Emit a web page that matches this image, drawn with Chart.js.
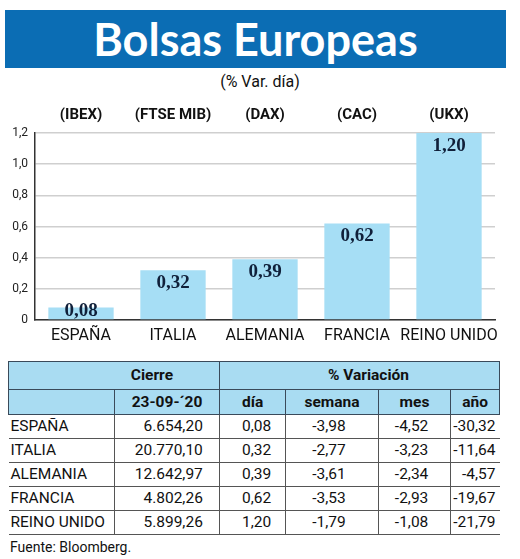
<!DOCTYPE html>
<html>
<head>
<meta charset="utf-8">
<script src="https://cdn.jsdelivr.net/npm/chart.js@4.4.0/dist/chart.umd.min.js"></script>
<style>
  body { margin: 0; background: #fff; width: 520px; height: 559px; position: relative; overflow: hidden;
         font-family: "Liberation Sans Narrow", Roboto, sans-serif; color: #111; }
  #band { position: absolute; left: 5px; top: 10px; width: 501px; height: 58px; background: #0b6db4;
          color: #fff; font-family: Lato, sans-serif; font-weight: 700; font-size: 45px;
          text-align: center; line-height: 58px; }
  #sub { position: absolute; left: 0; top: 72px; width: 520px; text-align: center; font-size: 16px; }
  #chart { position: absolute; left: 0; top: 95px; }
  #tbl { position: absolute; left: 8px; top: 361px; width: 492px; border-collapse: collapse; font-size: 15.5px; }
  #tbl td { padding: 0 2px; height: 23px; line-height: 23px; border-bottom: 1px solid #555; }
  #tbl tr.h td { background: #a9dcf2; font-weight: bold; text-align: center; border: 1px solid #3a4a5a; }
  #tbl tr.h1 td { height: 27px; line-height: 27px; }
  #tbl tr.h2 td { height: 24px; line-height: 24px; }
  #tbl td.n { text-align: right; padding-right: 4px; border-left: 1px solid #555; }
  #src { position: absolute; left: 10px; top: 539px; font-size: 14px; }
</style>
</head>
<body>
<div id="band">Bolsas Europeas</div>
<div id="sub">(% Var. día)</div>
<canvas id="chart" width="520" height="255"></canvas>
<table id="tbl"></table>
<div id="src">Fuente: Bloomberg.</div>
<script>
const countries = ['ESPAÑA', 'ITALIA', 'ALEMANIA', 'FRANCIA', 'REINO UNIDO'];
const tickers = ['(IBEX)', '(FTSE MIB)', '(DAX)', '(CAC)', '(UKX)'];
const dayChange = [0.08, 0.32, 0.39, 0.62, 1.20];
const closeValues = ['6.654,20', '20.770,10', '12.642,97', '4.802,26', '5.899,26'];
const weekChange = [-3.98, -2.77, -3.61, -3.53, -1.79];
const monthChange = [-4.52, -3.23, -2.34, -2.93, -1.08];
const yearChange = [-30.32, -11.64, -4.57, -19.67, -21.79];

const fmt = v => v.toFixed(2).replace('.', ',');

// table
const tbl = document.getElementById('tbl');
let html = '<tr class="h h1"><td colspan="2" style="padding-left:78px">Cierre</td>' +
  '<td colspan="4" style="padding-left:20px">% Variación</td></tr>' +
  '<tr class="h h2"><td style="width:102px;border-right:none"></td><td style="width:100px">23-09-´20</td>' +
  '<td style="width:62px">día</td><td style="width:88px">semana</td><td style="width:68px">mes</td><td>año</td></tr>';
countries.forEach((c, i) => {
  html += '<tr><td style="padding-left:2px">' + c + '</td><td class="n" style="padding-right:16px">' + closeValues[i] + '</td>' +
    '<td class="n" style="padding-right:14px">' + fmt(dayChange[i]) + '</td>' +
    '<td class="n" style="padding-right:32px">' + fmt(weekChange[i]) + '</td>' +
    '<td class="n" style="padding-right:22px">' + fmt(monthChange[i]) + '</td>' +
    '<td class="n">' + fmt(yearChange[i]) + '</td></tr>';
});
tbl.innerHTML = html;

const valueLabels = {
  id: 'valueLabels',
  afterDatasetsDraw(chart) {
    const c = chart.ctx;
    const meta = chart.getDatasetMeta(0);
    c.save();
    c.font = 'bold 19px "Liberation Serif", serif';
    c.fillStyle = '#10203a';
    c.textAlign = 'center';
    c.textBaseline = 'middle';
    meta.data.forEach((bar, i) => {
      const y = Math.min(bar.y + 13, bar.base - 8);
      c.fillText(fmt(dayChange[i]), bar.x, y);
    });
    c.restore();
  }
};

const axisFont = '"Liberation Sans Narrow", Roboto, sans-serif';

new Chart(document.getElementById('chart'), {
  type: 'bar',
  data: {
    labels: countries,
    datasets: [{
      data: dayChange,
      backgroundColor: '#a6def5',
      barPercentage: 0.71,
      categoryPercentage: 1
    }]
  },
  options: {
    responsive: false,
    animation: false,
    layout: { padding: { left: 0, right: 25, top: 0, bottom: 0 } },
    plugins: { legend: { display: false }, tooltip: { enabled: false } },
    scales: {
      x: {
        grid: { display: false, drawTicks: false },
        border: { color: '#333', width: 1.5 },
        ticks: { color: '#111', padding: 6, maxRotation: 0, minRotation: 0, autoSkip: false,
                 font: { family: axisFont, size: 16 } },
        afterFit(s) { s.height = 30; }
      },
      x2: {
        type: 'category',
        labels: tickers,
        position: 'top',
        grid: { display: false, drawTicks: false },
        border: { display: false },
        ticks: { color: '#111', padding: 9, maxRotation: 0, minRotation: 0, autoSkip: false,
                 font: { family: axisFont, size: 15, weight: 'bold' } },
        afterFit(s) { s.height = 38; }
      },
      y: {
        min: 0,
        max: 1.2,
        ticks: {
          stepSize: 0.2,
          color: '#222',
          padding: 7,
          font: { family: axisFont, size: 12 },
          callback: v => v === 0 ? '0' : v.toFixed(1).replace('.', ',')
        },
        grid: { color: '#cfcfcf', lineWidth: 1.5, drawTicks: false },
        border: { color: '#333', width: 1.5 },
        afterFit(s) { s.width = 35; }
      }
    }
  },
  plugins: [valueLabels]
});
</script>
</body>
</html>
